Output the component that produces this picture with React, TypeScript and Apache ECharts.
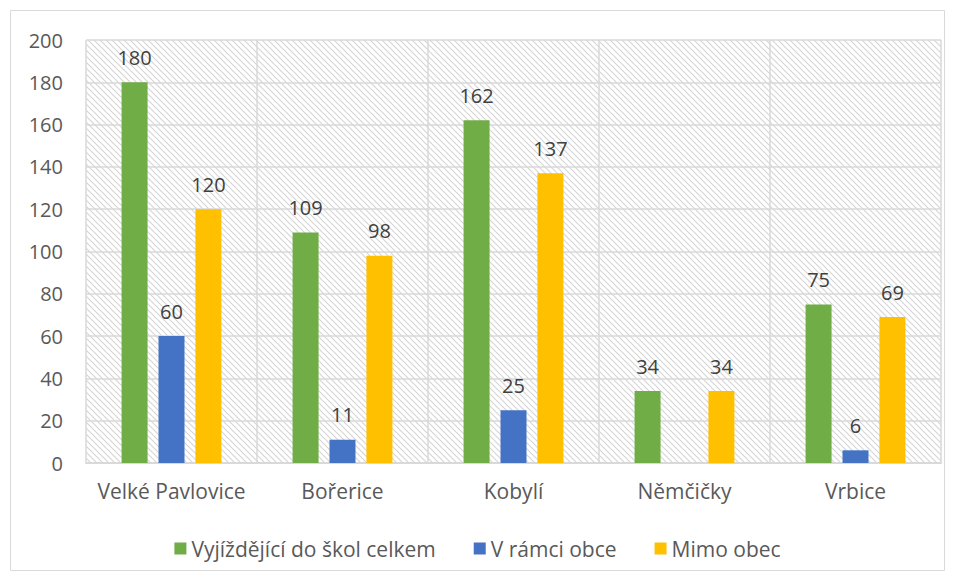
import React, { useEffect, useRef } from "react";
import * as echarts from "echarts";

const categories = ["Velké Pavlovice", "Bořerice", "Kobylí", "Němčičky", "Vrbice"];
const seriesNames = ["Vyjíždějící do škol celkem", "V rámci obce", "Mimo obec"];
const totalValues: (number | null)[] = [180, 109, 162, 34, 75];
const withinValues: (number | null)[] = [60, 11, 25, null, 6];
const outsideValues: (number | null)[] = [120, 98, 137, 34, 69];
const colors = ["#70AD47", "#4472C4", "#FFC000"];

function makeHatch(): HTMLCanvasElement {
  const s = 6;
  const c = document.createElement("canvas");
  c.width = s;
  c.height = s;
  const ctx = c.getContext("2d")!;
  ctx.fillStyle = "#ffffff";
  ctx.fillRect(0, 0, s, s);
  ctx.strokeStyle = "#d6d6d6";
  ctx.lineWidth = 1.2;
  for (const k of [-s, 0, s]) {
    ctx.beginPath();
    ctx.moveTo(k - 1, -1);
    ctx.lineTo(k + s + 1, s + 1);
    ctx.stroke();
  }
  return c;
}

export default function App() {
  const ref = useRef<HTMLDivElement>(null);
  useEffect(() => {
    if (!ref.current) return;
    const chart = echarts.init(ref.current, undefined, { renderer: "svg" });
    const font = "'Open Sans', sans-serif";
    const mk = (name: string, data: (number | null)[], color: string) => ({
      name,
      type: "bar",
      data,
      barWidth: 26,
      barGap: "42%",
      itemStyle: { color },
      label: {
        show: true,
        position: "top",
        distance: 15,
        color: "#404040",
        fontSize: 20,
        fontFamily: font,
      },
    });
    chart.setOption({
      animation: false,
      backgroundColor: "#ffffff",
      textStyle: { fontFamily: font },
      graphic: [
        {
          type: "rect",
          shape: { x: 10.5, y: 10.5, width: 934, height: 560 },
          style: { fill: "none", stroke: "#d9d9d9", lineWidth: 1 },
          z: -1,
        },
      ],
      grid: {
        left: 86,
        right: 14,
        top: 40,
        bottom: 118,
        show: true,
        borderWidth: 0,
        backgroundColor: { image: makeHatch(), repeat: "repeat" },
      },
      legend: {
        data: seriesNames,
        top: 533,
        left: "center",
        icon: "rect",
        itemWidth: 12,
        itemHeight: 12,
        itemGap: 38,
        textStyle: { color: "#595959", fontSize: 21, fontFamily: font },
      },
      xAxis: {
        type: "category",
        data: categories,
        axisLine: { show: true, lineStyle: { color: "#d9d9d9", width: 2 } },
        axisTick: { show: false },
        splitLine: { show: true, interval: 0, lineStyle: { color: "#d9d9d9", width: 1.5 } },
        axisLabel: { color: "#595959", fontSize: 21, margin: 17, interval: 0, fontFamily: font },
      },
      yAxis: {
        type: "value",
        min: 0,
        max: 200,
        interval: 20,
        axisLine: { show: false },
        axisTick: { show: false },
        splitLine: { show: true, lineStyle: { color: "#d9d9d9", width: 1.5 } },
        axisLabel: { color: "#595959", fontSize: 20, margin: 23, fontFamily: font },
      },
      series: [
        mk(seriesNames[0], totalValues, colors[0]),
        mk(seriesNames[1], withinValues, colors[1]),
        mk(seriesNames[2], outsideValues, colors[2]),
      ],
    });
    return () => chart.dispose();
  }, []);
  return (
    <div
      ref={ref}
      style={{ position: "fixed", left: 0, top: 0, width: 955, height: 581 }}
    />
  );
}
